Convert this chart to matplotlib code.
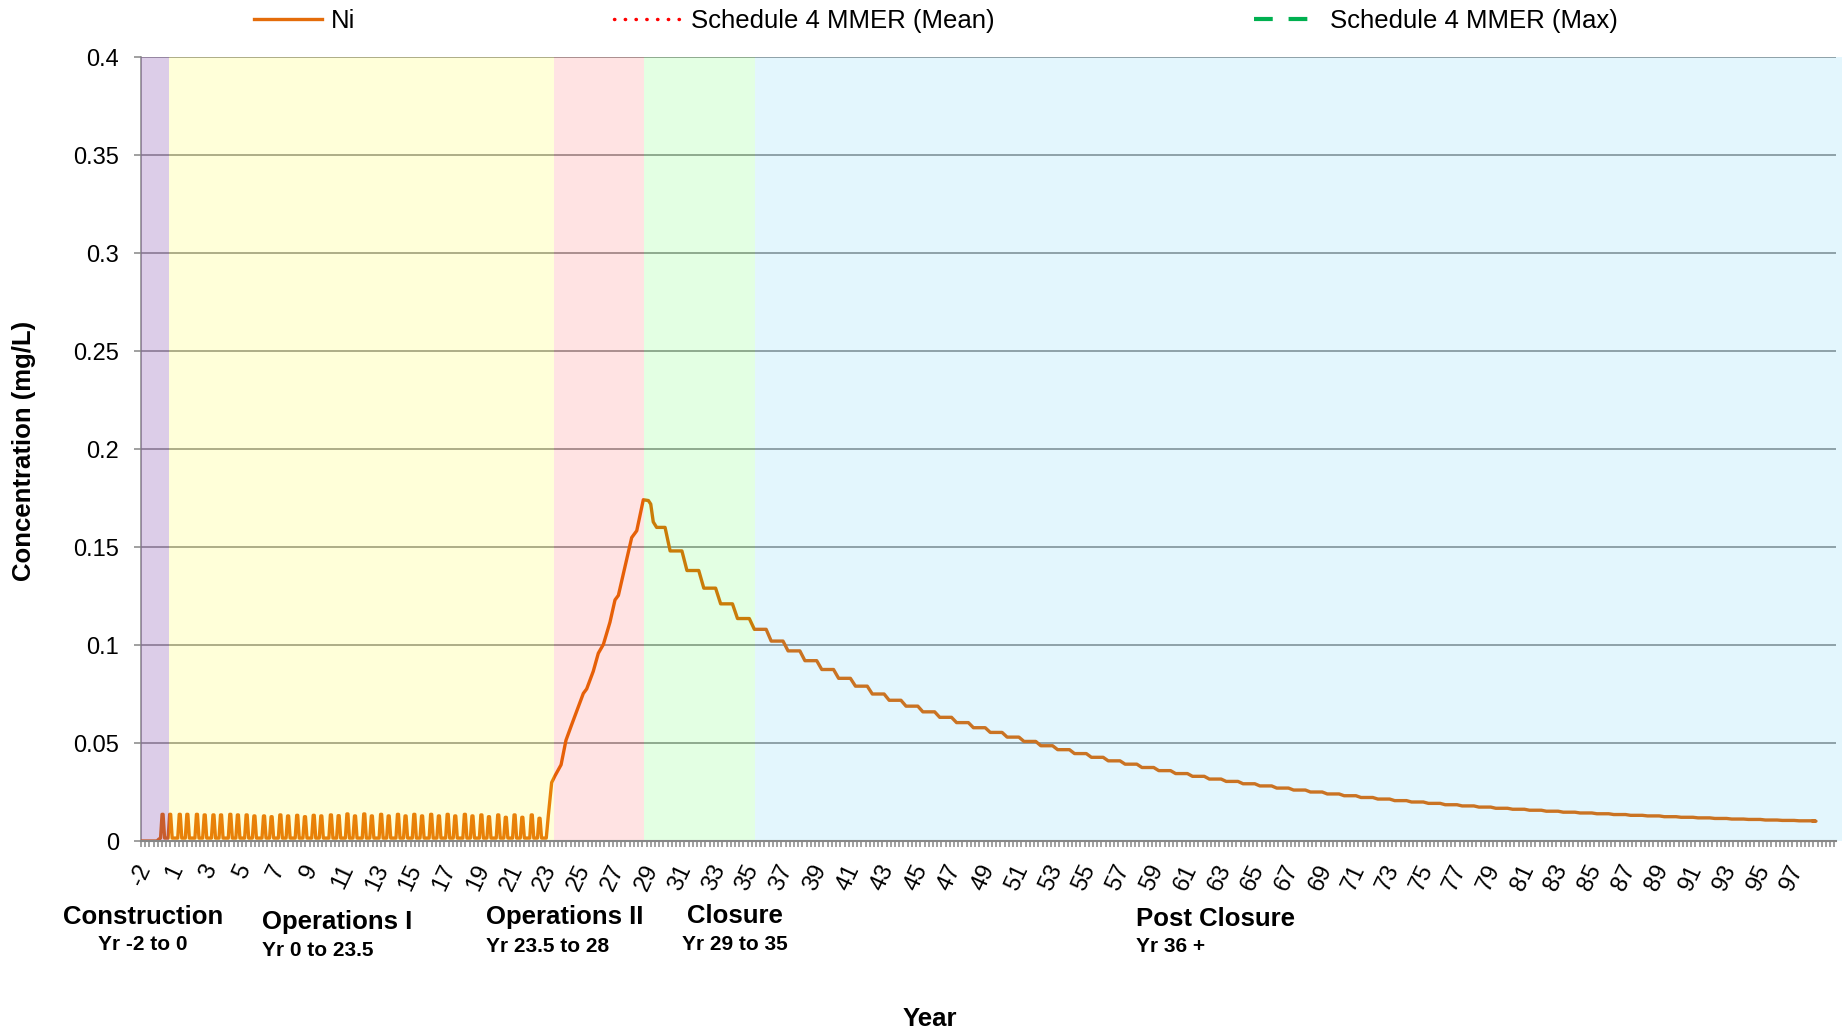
import matplotlib
matplotlib.use("Agg")
import matplotlib.pyplot as plt

plt.rcParams['font.family'] = ['Liberation Sans', 'DejaVu Sans']

W, H = 1849, 1032

# x axis is in years from the start of construction; printed labels as on the original
tick_years = list(range(-2, 97, 2))
tick_labels = ['-2'] + [str(n) for n in range(1, 98, 2)]

y_ticks = [0, 0.05, 0.1, 0.15, 0.2, 0.25, 0.3, 0.35, 0.4]
y_labels = ['0', '0.05', '0.1', '0.15', '0.2', '0.25', '0.3', '0.35', '0.4']

# mine phases
phase_names = ['Construction', 'Operations I', 'Operations II', 'Closure', 'Post Closure']
phase_spans = ['Yr -2 to 0', 'Yr 0 to 23.5', 'Yr 23.5 to 28', 'Yr 29 to 35', 'Yr 36 +']
phase_edges = [-2.0, -0.34, 22.51, 27.83, 34.46, 98.96]
phase_colors = ['#7030A0', '#FFFF00', '#FF0000', '#00FF00', '#00B0F0']
phase_alpha = [0.24, 0.15, 0.11, 0.11, 0.11]

# Schedule 4 MMER limits for Ni (mg/L) - above the plotted range
mmer_mean = 0.5
mmer_max = 1.0

# Ni concentration (mg/L)
pre_years = [-2.0, -1.05, -0.95]
pre_vals = [0.0, 0.0, 0.0009]
ops_base = 0.0015
ops_peak_years = [-0.72, -0.27, 0.30, 0.75, 1.32, 1.78, 2.30, 2.75, 3.30, 3.75,
                  4.27, 4.73, 5.30, 5.75, 6.27, 6.73, 7.27, 7.73, 8.25, 8.70,
                  9.27, 9.73, 10.25, 10.70, 11.25, 11.70, 12.25, 12.70, 13.25, 13.70,
                  14.22, 14.68, 15.22, 15.68, 16.20, 16.65, 17.22, 17.67, 18.20, 18.65,
                  19.20, 19.65, 20.17, 20.63, 21.19, 21.65]
ops_peak_vals = [0.0136, 0.0136, 0.0136, 0.0136, 0.0136, 0.0133, 0.0133, 0.0133, 0.0136, 0.0133,
                 0.0133, 0.0128, 0.0128, 0.0124, 0.0133, 0.0128, 0.0131, 0.0124, 0.0131, 0.0128,
                 0.0133, 0.0129, 0.0138, 0.0128, 0.0138, 0.0128, 0.0136, 0.0128, 0.0136, 0.0128,
                 0.0136, 0.0128, 0.0136, 0.0128, 0.0136, 0.0128, 0.0136, 0.0128, 0.0133, 0.0124,
                 0.0133, 0.0121, 0.0133, 0.0121, 0.0133, 0.0116]
rise_years = [22.05, 22.17, 22.37, 22.57, 22.93, 23.22, 23.56, 24.25, 24.45, 24.84,
              25.14, 25.44, 25.83, 26.13, 26.33, 26.82, 27.12, 27.42, 27.81, 28.11,
              28.25, 28.40, 28.60]
rise_vals = [0.0015, 0.0128, 0.0298, 0.0333, 0.0389, 0.0514, 0.0594, 0.0753, 0.0776, 0.0866,
             0.0958, 0.1003, 0.1116, 0.1230, 0.1253, 0.1435, 0.1548, 0.1583, 0.1741, 0.1737,
             0.1719, 0.1628, 0.1600]
step_years = list(range(29, 98))
step_levels = [0.1480, 0.1380, 0.1290, 0.1210, 0.1135, 0.1080, 0.1020, 0.0970, 0.0920, 0.0875,
               0.0830, 0.0790, 0.0750, 0.0718, 0.0688, 0.0659, 0.0631, 0.0604, 0.0578, 0.0554,
               0.0530, 0.0508, 0.0486, 0.0466, 0.0446, 0.0427, 0.0409, 0.0392, 0.0375, 0.0359,
               0.0344, 0.0330, 0.0316, 0.0304, 0.0292, 0.0281, 0.0270, 0.0260, 0.0250, 0.0240,
               0.0231, 0.0222, 0.0214, 0.0206, 0.0199, 0.0192, 0.0185, 0.0179, 0.0173, 0.0167,
               0.0162, 0.0157, 0.0152, 0.0147, 0.0143, 0.0139, 0.0135, 0.0131, 0.0128, 0.0124,
               0.0121, 0.0118, 0.0115, 0.0112, 0.0110, 0.0107, 0.0105, 0.0103, 0.0101]
end_year = 97.25

# assemble the Ni trace: freshet spikes, ramp-up, then yearly stepped decline
ni_x, ni_y = list(pre_years), list(pre_vals)
for p, v in zip(ops_peak_years, ops_peak_vals):
    ni_x += [p - 0.12, p - 0.03, p + 0.03, p + 0.12]
    ni_y += [ops_base, v, v, ops_base]
ni_x += rise_years
ni_y += rise_vals
prev = rise_vals[-1]
for yr, lv in zip(step_years, step_levels):
    ni_x += [yr + 0.1, yr + 0.4]
    ni_y += [prev, lv]
    prev = lv
ni_x.append(end_year)
ni_y.append(prev)

fig = plt.figure(figsize=(W / 100, H / 100), dpi=100)
ax = fig.add_axes([141 / W, 1 - 841 / H, (1836 - 141) / W, (841 - 57) / H])

grey = '#868686'
ax.plot(ni_x, ni_y, color='#E46C0A', lw=2.4, zorder=2, label='Ni',
        solid_joinstyle='round')
ax.axhline(mmer_mean, color='#FF0000', lw=2.5, ls=(0, (0.1, 3.0)),
           dash_capstyle='round', label='Schedule 4 MMER (Mean)')
ax.axhline(mmer_max, color='#00B050', lw=3, ls=(0, (4.5, 3.8)),
           label='Schedule 4 MMER (Max)')

for i in range(len(phase_names)):
    ax.axvspan(phase_edges[i], phase_edges[i + 1], color=phase_colors[i],
               alpha=phase_alpha[i], lw=0, zorder=2.5, clip_on=False)

ax.set_xlim(-2, 98.59)
ax.set_ylim(0, 0.4)

ax.set_yticks(y_ticks)
ax.set_yticklabels(y_labels, fontsize=17)
ax.yaxis.grid(True, color=grey, lw=1.1)
ax.set_axisbelow(True)

ax.set_xticks(tick_years)
ax.set_xticklabels(tick_labels, fontsize=17, rotation=65)
ax.set_xticks([-2 + 0.25 * i for i in range(403)], minor=True)
ax.tick_params(axis='x', which='both', length=4.3, width=1.1, color=grey, pad=10)
ax.tick_params(axis='y', length=5, width=1.1, color=grey, pad=11)

for s in ['top', 'right']:
    ax.spines[s].set_visible(False)
ax.spines['left'].set_color(grey)
ax.spines['left'].set_linewidth(1.1)
ax.spines['left'].set_zorder(1)
ax.spines['bottom'].set_color(grey)
ax.spines['bottom'].set_linewidth(1.5)
ax.spines['bottom'].set_zorder(3)

# axis titles
fig.text(23.6 / W, 1 - 451 / H, 'Concentration (mg/L)', rotation=90,
         ha='center', va='center', fontsize=18.5, fontweight='bold')
fig.text(930 / W, 1 - 1019 / H, 'Year', ha='center', va='center',
         fontsize=18.5, fontweight='bold')

# phase captions under the axis
name_pos = [(143, 917, 'center'), (262, 922, 'left'), (486, 917, 'left'),
            (735, 916, 'center'), (1136, 919, 'left')]
span_pos = [(143, 945, 'center'), (262, 950, 'left'), (486, 947, 'left'),
            (735, 944, 'center'), (1136, 947, 'left')]
for name, span, (nx, ny, na), (sx, sy, sa) in zip(phase_names, phase_spans, name_pos, span_pos):
    fig.text(nx / W, 1 - ny / H, name, ha=na, va='center', fontsize=18.5, fontweight='bold')
    fig.text(sx / W, 1 - sy / H, span, ha=sa, va='center', fontsize=15, fontweight='bold')

fig.legend(loc='center', bbox_to_anchor=(936 / W, 1 - 21 / H), ncol=3, frameon=False,
           fontsize=18.5, handlelength=2.65, handletextpad=0.32, columnspacing=10.1,
           borderpad=0)

fig.savefig('out.png', dpi=100)
